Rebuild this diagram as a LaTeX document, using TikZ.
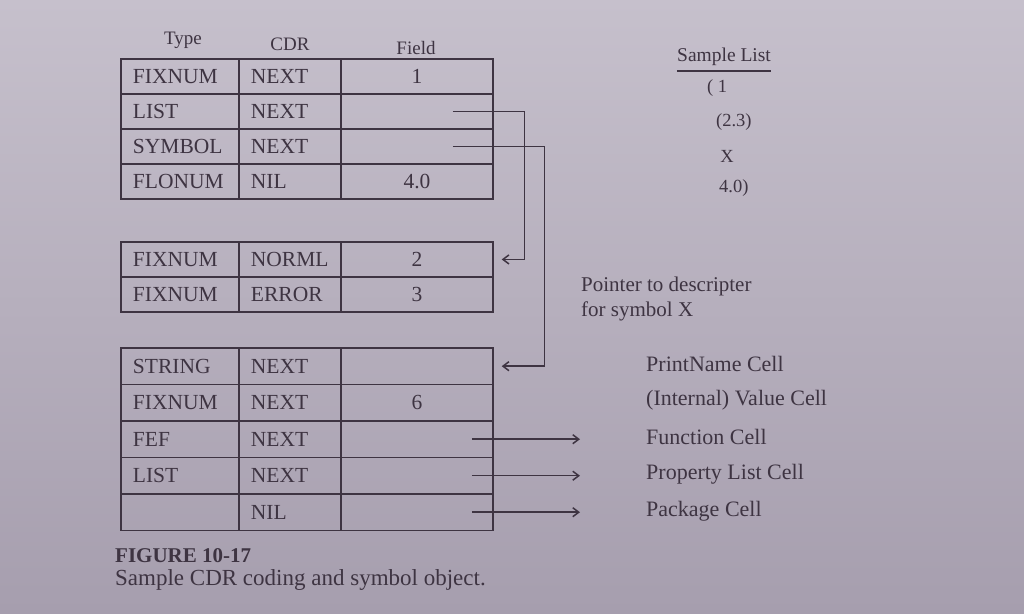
\documentclass[tikz,border=0pt]{standalone}
\usepackage{fontspec}
\setmainfont{Liberation Serif}
\usetikzlibrary{matrix,arrows.meta,calc}

\definecolor{ink}{RGB}{62,52,66}
\definecolor{paperTop}{RGB}{198,192,204}
\definecolor{paperBot}{RGB}{166,158,174}

\newcommand\cellfont{\fontsize{21.5}{23}\selectfont}
\newcommand\labfont{\fontsize{22}{24}\selectfont}
\newcommand\notefont{\fontsize{21}{23}\selectfont}
\newcommand\headfont{\fontsize{19}{21}\selectfont}
\newcommand\listfont{\fontsize{18.5}{20}\selectfont}

\tikzset{
  tbl/.style={
    matrix of nodes, nodes in empty cells,
    column sep=-1.5pt, row sep=-1.5pt, inner sep=0pt, anchor=north west,
    nodes={draw=ink, line width=1.5pt, text=ink, font=\cellfont,
           inner ysep=0pt, minimum height=#1, anchor=center},
    column 1/.style={nodes={text width=94pt, inner xsep=12pt, align=left}},
    column 2/.style={nodes={text width=78pt, inner xsep=12pt, align=left}},
    column 3/.style={nodes={text width=128pt, inner xsep=12pt, align=center}}
  },
  txt/.style={text=ink, inner sep=0pt},
  ptr/.style={draw=ink, line width=1.5pt, -{Straight Barb[length=6pt,width=9pt]}}
}

\begin{document}
\begin{tikzpicture}[x=1pt,y=-1pt]
  % paper
  \shade[top color=paperTop, bottom color=paperBot] (0,0) rectangle (1024,613);
  \useasboundingbox (0,0) rectangle (1024,613);

  % column headings
  \node[txt, font=\headfont] (hType)  at (183,40) {Type};
  \node[txt, font=\headfont] (hCdr)   at (290,44) {CDR};
  \node[txt, font=\headfont] (hField) at (416,48) {Field};

  % list cells
  \matrix[tbl=35pt] (t1) at (120,58) {
    FIXNUM & NEXT & 1 \\
    LIST   & NEXT &   \\
    SYMBOL & NEXT &   \\
    FLONUM & NIL  & 4.0 \\
  };

  % (2.3) as a pair
  \matrix[tbl=35pt] (t2) at (120,241) {
    FIXNUM & NORML & 2 \\
    FIXNUM & ERROR & 3 \\
  };

  % symbol object X
  \matrix[tbl=36.5pt] (t3) at (120,347) {
    STRING & NEXT &   \\
    FIXNUM & NEXT & 6 \\
    FEF    & NEXT &   \\
    LIST   & NEXT &   \\
           & NIL  &   \\
  };

  % pointers from the list cells
  \coordinate (p1) at ($(t1-2-3.center)+(36,0)$);
  \coordinate (p2) at ($(t1-3-3.center)+(36,0)$);
  \draw[ptr] (p1) -| ($(t2-1-3.east)+(31,0)$) -- ($(t2-1-3.east)+(8,0)$);
  \draw[ptr] (p2) -| ($(t3-1-3.east)+(51,0)$) -- ($(t3-1-3.east)+(8,0)$);

  % sample list
  \node[txt, font=\fontsize{19.5}{21}\selectfont] (sl) at (724,57) {Sample List};
  \draw[ink, line width=1.5pt] ($(sl.south west)+(0,5)$) -- ($(sl.south east)+(0,5)$);
  \node[txt, font=\listfont, anchor=west] (l1) at (707,88)  {( 1};
  \node[txt, font=\listfont, anchor=west] (l2) at (716,122) {(2.3)};
  \node[txt, font=\listfont]              (l3) at (727,156) {X};
  \node[txt, font=\listfont, anchor=west] (l4) at (719,188) {4.0)};

  % descriptor note
  \node[txt, font=\notefont, anchor=west] (n1) at (581,286) {Pointer to descripter};
  \node[txt, font=\notefont, anchor=west] (n2) at (581,311) {for symbol X};

  % cell names
  \node[txt, font=\labfont, anchor=west] (c1) at (646,364) {PrintName Cell};
  \node[txt, font=\labfont, anchor=west] (c2) at (646,400) {(Internal) Value Cell};
  \node[txt, font=\labfont, anchor=west] (c3) at (646,437) {Function Cell};
  \node[txt, font=\labfont, anchor=west] (c4) at (646,474) {Property List Cell};
  \node[txt, font=\labfont, anchor=west] (c5) at (646,511) {Package Cell};

  % outgoing pointers of the symbol object
  \draw[ptr] ($(t3-3-3.center)+(55,0)$) -- ($(t3-3-3.center -| c3.west)+(-66,0)$);
  \draw[ptr] ($(t3-4-3.center)+(55,0)$) -- ($(t3-4-3.center -| c4.west)+(-66,0)$);
  \draw[ptr] ($(t3-5-3.center)+(55,0)$) -- ($(t3-5-3.center -| c5.west)+(-66,0)$);

  % caption
  \node[txt, font=\fontsize{21}{23}\selectfont\bfseries, anchor=west] (fig) at (115,556) {FIGURE 10-17};
  \node[txt, font=\fontsize{23}{25}\selectfont, anchor=west] (cap) at (115,580) {Sample CDR coding and symbol object.};
\end{tikzpicture}
\end{document}
